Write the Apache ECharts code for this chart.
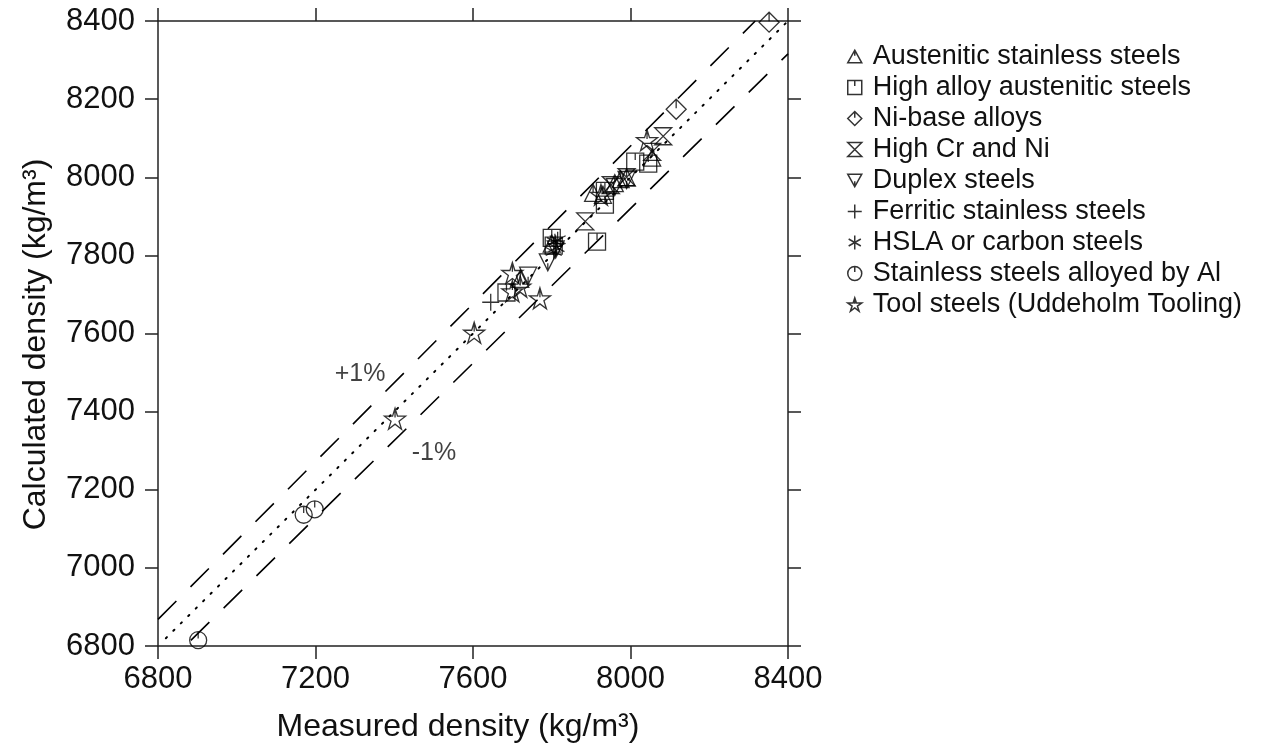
<!DOCTYPE html>
<html><head><meta charset="utf-8">
<script src="https://cdn.jsdelivr.net/npm/echarts@6/dist/echarts.min.js"></script>
<style>html,body{margin:0;padding:0;background:#fff}#c{width:1262px;height:751px}</style>
</head><body><div id="c"></div>
<script>
// ---- data ----
const seriesNames = ["Austenitic stainless steels","High alloy austenitic steels","Ni-base alloys","High Cr and Ni","Duplex steels","Ferritic stainless steels","HSLA or carbon steels","Stainless steels alloyed by Al","Tool steels (Uddeholm Tooling)"];
const austenitic = [[7905,7960],[7960,7985],[7975,7995],[7990,8000],[8055,8050],[7720,7740],[7800,7830],[7930,7955]];
const highAlloy = [[7800,7845],[7915,7835],[7685,7705],[7935,7930],[8012,8040],[8045,8035],[7935,7965],[7805,7825]];
const niBase = [[8352,8397],[8116,8174]];
const highCrNi = [[7885,7887],[8083,8105],[8055,8065],[7990,8000],[7950,7980]];
const duplex = [[7790,7782],[7740,7748],[7990,7993],[7960,7975],[7810,7815]];
const ferritic = [[7645,7680],[7810,7830]];
const hsla = [[7808,7835],[7812,7820],[7805,7810],[7815,7840]];
const alAlloyed = [[6902,6815],[7170,7136],[7198,7150]];
const toolSteels = [[7402,7382],[7603,7602],[7700,7755],[7700,7708],[7770,7690],[8042,8095],[7925,7955],[7720,7720]];
const axisMin = 6800, axisMax = 8400, axisStep = 400, yStep = 200;
const parityLine = [[6820,6820],[8400,8400]];
const plusLine = [[6800,6868],[8316.8,8400]];
const minusLine = [[6800,6732],[8400,8316]];
const annotations = [[7313,7495,"+1%"],[7501,7295,"-1%"]];

// ---- symbols ----
const sym = {
  triUp: 'path://M10,0 L20,18 L0,18 Z M10,0 L10,8',
  square: 'path://M0,0 L20,0 L20,20 L0,20 Z M10,0 L10,8',
  diamond: 'path://M10,0 L20,10 L10,20 L0,10 Z M10,0 L10,9',
  hourglass: 'path://M0,0 L20,0 L0,20 L20,20 Z',
  triDown: 'path://M0,0 L20,0 L10,18 Z M10,18 L10,10',
  plus: 'path://M10,0 L10,20 M0,10 L20,10',
  asterisk: 'path://M10,0 L10,20 M1.3,5 L18.7,15 M1.3,15 L18.7,5',
  circle: 'path://M20,10 A10,10 0 1,1 0,10 A10,10 0 1,1 20,10 Z M10,0 L10,8',
  star: 'path://M10,0 L12.23,6.93 L19.51,6.91 L13.61,11.17 L15.88,18.09 L10,13.8 L4.12,18.09 L6.39,11.17 L0.49,6.91 L7.77,6.93 Z M10,0 L10,8'
};
const symList = [sym.triUp, sym.square, sym.diamond, sym.hourglass, sym.triDown, sym.plus, sym.asterisk, sym.circle, sym.star];
const dataList = [austenitic, highAlloy, niBase, highCrNi, duplex, ferritic, hsla, alAlloyed, toolSteels];
const sizes = [17,17,20,17,17,17,16,17,21];

const FONT = 'Liberation Sans';
const chart = echarts.init(document.getElementById('c'), null, {renderer:'canvas'});

const scatterSeries = seriesNames.map((n,i)=>({
  name:n, type:'scatter', data:dataList[i], symbol:symList[i], symbolSize:sizes[i],
  itemStyle:{color:'rgba(0,0,0,0)', borderColor:'#000', borderWidth:1.3},
  z:5
}));

const axisCommon = {
  type:'value', min:axisMin, max:axisMax,
  splitLine:{show:false},
  axisLine:{show:true, lineStyle:{color:'#222', width:1.5}},
  axisTick:{show:true, inside:false, length:13, lineStyle:{color:'#222', width:1.5}},
};
const fmt = v => String(v);

chart.setOption({
  animation:false,
  backgroundColor:'#fff',
  grid:{left:158, right:474, top:21, bottom:105, containLabel:false},
  legend:{
    orient:'vertical', left:842, top:38, itemGap:4, itemWidth:14, itemHeight:14,
    data:seriesNames,
    textStyle:{fontFamily:FONT, fontSize:27, color:'#111', padding:[0,0,0,6]},
    itemStyle:{color:'rgba(0,0,0,0)', borderColor:'#000', borderWidth:1.5},
    inactiveColor:'#000'
  },
  xAxis:[
    Object.assign({}, axisCommon, {position:'bottom', interval:axisStep,
      name:'Measured density (kg/m³)', nameLocation:'middle', nameGap:65,
      nameTextStyle:{fontFamily:FONT, fontSize:32, color:'#111', padding:[0,30,0,0]},
      axisLabel:{fontFamily:FONT, fontSize:31, color:'#111', margin:18, formatter:fmt}}),
    Object.assign({}, axisCommon, {position:'top', interval:axisStep, axisLabel:{show:false}})
  ],
  yAxis:[
    Object.assign({}, axisCommon, {position:'left', interval:yStep,
      name:'Calculated density (kg/m³)', nameLocation:'middle', nameGap:106,
      nameTextStyle:{fontFamily:FONT, fontSize:32, color:'#111', padding:[0,22,0,0]},
      axisLabel:{fontFamily:FONT, fontSize:31, color:'#111', margin:23, formatter:fmt}}),
    Object.assign({}, axisCommon, {position:'right', interval:yStep, axisLabel:{show:false}})
  ],
  series:[
    {type:'line', data:parityLine, symbol:'none', silent:true, lineStyle:{color:'#000', width:2, type:[1.5,9], cap:'round'}, z:2},
    {type:'line', data:plusLine, symbol:'none', silent:true, lineStyle:{color:'#000', width:1.6, type:[26,20]}, z:2},
    {type:'line', data:minusLine, symbol:'none', silent:true, lineStyle:{color:'#000', width:1.6, type:[26,20]}, z:2},
    {type:'scatter', data:annotations.map(a=>[a[0],a[1]]), symbolSize:0, silent:true,
      label:{show:true, position:'inside', formatter:p=>annotations[p.dataIndex][2], fontFamily:FONT, fontSize:25, color:'#111'}, z:3}
  ].concat(scatterSeries)
});
</script></body></html>
